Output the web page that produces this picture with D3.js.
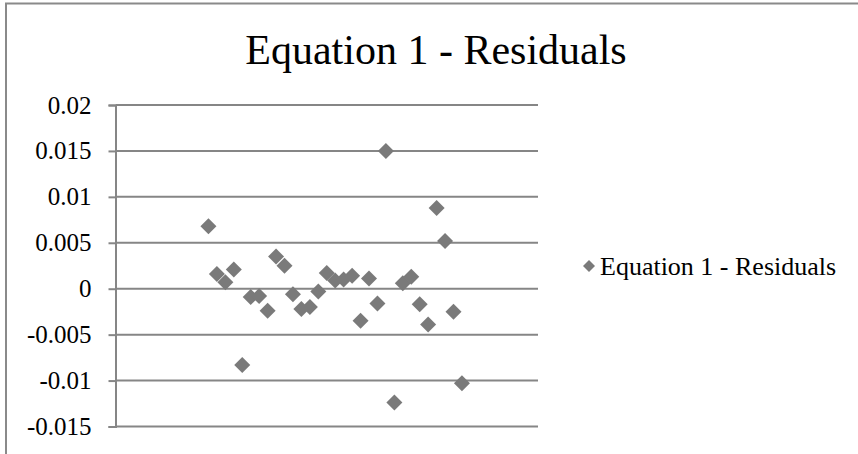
<!DOCTYPE html>
<html><head><meta charset="utf-8"><script src="https://cdn.jsdelivr.net/npm/d3@7"></script></head>
<body style="margin:0">
<svg id="chart" width="858" height="454" style="display:block"></svg>
<script>
// ---- data ----
const chartTitle = "Equation 1 - Residuals";
const seriesName = "Equation 1 - Residuals";
const xValues = [11,12,13,14,15,16,17,18,19,20,21,22,23,24,25,26,27,28,29,30,31,32,33,34,35,36,37,38,39,40,41];
const residuals = [0.0068, 0.0016, 0.0007, 0.0021, -0.0083, -0.0009, -0.0008, -0.0024, 0.0035, 0.0025,
                   -0.0006, -0.0022, -0.0020, -0.0003, 0.0017, 0.0009, 0.0010, 0.0014, -0.0035, 0.0011,
                   -0.0016, 0.0150, -0.0124, 0.0006, 0.0013, -0.0017, -0.0039, 0.0088, 0.0052, -0.0025, -0.0103];
const yTicks = [-0.015, -0.01, -0.005, 0, 0.005, 0.01, 0.015, 0.02];
const yTickLabels = ["-0.015", "-0.01", "-0.005", "0", "0.005", "0.01", "0.015", "0.02"];
const xDomain = [0, 50];

// ---- drawing ----
const FONT = "Times New Roman";
const svg = d3.select("#chart");
const gridColor = "#868686";
const markerColor = "#7a7a7a";

function setFont(sel, size) {
  sel.attr("font-family", FONT).style("font-family", `"${FONT}"`)
     .attr("font-size", size).attr("fill", "#000");
}

// chart border
svg.append("rect")
  .attr("x", 6).attr("y", 3.5)
  .attr("width", 900).attr("height", 500)
  .attr("fill", "none").attr("stroke", "#8a8a8a").attr("stroke-width", 2);

const plot = { left: 115.5, right: 538, top: 105, bottom: 426.5 };
const x = d3.scaleLinear().domain(xDomain).range([plot.left, plot.right]);
const y = d3.scaleLinear().domain([-0.015, 0.02]).range([plot.bottom, plot.top]);

// gridlines
svg.append("g").selectAll("line").data(yTicks).join("line")
  .attr("x1", plot.left).attr("x2", plot.right)
  .attr("y1", d => y(d)).attr("y2", d => y(d))
  .attr("stroke", gridColor).attr("stroke-width", 2);

// y axis
const yAxis = d3.axisLeft(y).tickValues(yTicks)
  .tickFormat((d, i) => yTickLabels[i]).tickSize(7).tickPadding(17);
const gy = svg.append("g").attr("transform", `translate(${plot.left},0)`).call(yAxis);
gy.attr("font-family", FONT).attr("font-size", 25);
gy.select(".domain").attr("stroke", gridColor).attr("stroke-width", 2);
gy.selectAll(".tick line").attr("stroke", gridColor).attr("stroke-width", 2);
setFont(gy.selectAll(".tick text"), 25);

// diamonds
const diamond = "M0,-8L8,0L0,8L-8,0Z";
svg.append("g").selectAll("path").data(residuals).join("path")
  .attr("d", diamond)
  .attr("transform", (d, i) => `translate(${x(xValues[i])},${y(d)})`)
  .attr("fill", markerColor);

// title
const title = svg.append("text")
  .attr("x", 436).attr("y", 64)
  .attr("text-anchor", "middle")
  .text(chartTitle);
setFont(title, 42);

// legend
const lg = svg.append("g").attr("transform", "translate(589,266)");
lg.append("path").attr("d", "M0,-6L6,0L0,6L-6,0Z").attr("fill", markerColor);
const lt = lg.append("text").attr("x", 11).attr("y", 0).attr("dy", "0.35em")
  .text(seriesName);
setFont(lt, 26);
</script>
</body></html>
